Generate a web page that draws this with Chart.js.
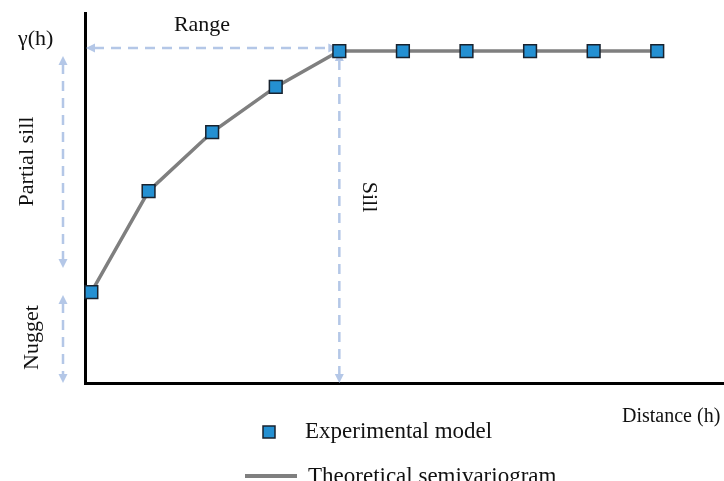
<!DOCTYPE html>
<html>
<head>
<meta charset="utf-8">
<script src="https://cdn.jsdelivr.net/npm/chart.js@4.4.1/dist/chart.umd.min.js"></script>
<style>
  html, body { margin: 0; padding: 0; background: #fff; }
  canvas { display: block; }
</style>
</head>
<body>
<canvas id="chart" width="724" height="481"></canvas>
<script>
// distance (h) of each experimental point
const distances = [0.1, 1, 2, 3, 4, 5, 6, 7, 8, 9]
// semivariance gamma(h)
const semivariance = [0.274, 0.578, 0.756, 0.892, 1, 1, 1, 1, 1, 1]

// model parameters used for the dashed guides
const nugget = 0.274
const sill = 1
const range = 4

const seriesNames = ["Experimental model", "Theoretical semivariogram"]

const fontFamily = '"Liberation Serif", "Times New Roman", serif'
const dashColor = "rgb(180, 199, 231)"
const pointFill = "#2490d2"
const pointBorder = "#18222e"
const lineColor = "#7f7f7f"

function toPoints(xs, ys){
    return xs.map((x, i) => ({x: x, y: ys[i]}))
}

function arrowHead(ctx, x, y, angle){
    ctx.save()
    ctx.translate(x, y)
    ctx.rotate(angle)
    ctx.beginPath()
    ctx.moveTo(0, 0)
    ctx.lineTo(-9, -4.5)
    ctx.lineTo(-9, 4.5)
    ctx.closePath()
    ctx.fill()
    ctx.restore()
}

//ligne pointillée avec une flèche à chaque bout
function dashedArrow(ctx, x1, y1, x2, y2){
    let a = Math.atan2(y2 - y1, x2 - x1)
    ctx.beginPath()
    ctx.moveTo(x1 + Math.cos(a) * 8, y1 + Math.sin(a) * 8)
    ctx.lineTo(x2 - Math.cos(a) * 8, y2 - Math.sin(a) * 8)
    ctx.stroke()
    arrowHead(ctx, x2, y2, a)
    arrowHead(ctx, x1, y1, a + Math.PI)
}

function rotatedText(ctx, text, x, y, angle){
    ctx.save()
    ctx.translate(x, y)
    ctx.rotate(angle)
    ctx.textAlign = "center"
    ctx.textBaseline = "alphabetic"
    ctx.fillText(text, 0, 0)
    ctx.restore()
}

const guides = {
    id: "guides",
    beforeDatasetsDraw(chart){
        let ctx = chart.ctx
        let sx = chart.scales.x
        let sy = chart.scales.y
        let x0 = sx.getPixelForValue(0)
        let xr = sx.getPixelForValue(range)
        let y0 = sy.getPixelForValue(0)
        let ys = sy.getPixelForValue(sill)
        let yn = sy.getPixelForValue(nugget)

        ctx.save()
        ctx.strokeStyle = dashColor
        ctx.fillStyle = dashColor
        ctx.lineWidth = 2.5
        ctx.setLineDash([10, 7])
        dashedArrow(ctx, x0 + 1, ys - 3, xr - 2, ys - 3)      // range
        dashedArrow(ctx, xr, ys + 1, xr, y0)                  // sill
        dashedArrow(ctx, x0 - 22, ys + 5, x0 - 22, yn - 24)   // partial sill
        dashedArrow(ctx, x0 - 22, yn + 3, x0 - 22, y0)        // nugget
        ctx.restore()
    },
    afterDraw(chart){
        let ctx = chart.ctx
        let sx = chart.scales.x
        let sy = chart.scales.y
        let xr = sx.getPixelForValue(range)
        let ys = sy.getPixelForValue(sill)
        let yn = sy.getPixelForValue(nugget)
        let y0 = sy.getPixelForValue(0)

        ctx.save()
        ctx.fillStyle = "#111"
        ctx.font = "22px " + fontFamily
        ctx.textBaseline = "alphabetic"
        ctx.textAlign = "left"
        ctx.fillText("γ(h)", 18, 45)
        ctx.textAlign = "center"
        ctx.fillText("Range", 202, 31)

        rotatedText(ctx, "Partial sill", 33, (ys + yn) / 2 - 10, -Math.PI / 2)
        rotatedText(ctx, "Nugget", 38, (yn + y0) / 2, -Math.PI / 2)
        rotatedText(ctx, "Sill", xr + 24, (ys + y0) / 2 - 20, Math.PI / 2)

        ctx.font = "20px " + fontFamily
        ctx.textAlign = "left"
        ctx.fillText("Distance (h)", 622, 422)

        //légende
        ctx.font = "23px " + fontFamily
        ctx.fillStyle = pointFill
        ctx.strokeStyle = pointBorder
        ctx.lineWidth = 1.5
        ctx.fillRect(263, 426, 12, 12)
        ctx.strokeRect(263, 426, 12, 12)
        ctx.fillStyle = "#111"
        ctx.fillText(seriesNames[0], 305, 438)

        ctx.strokeStyle = lineColor
        ctx.lineWidth = 4
        ctx.beginPath()
        ctx.moveTo(245, 476)
        ctx.lineTo(297, 476)
        ctx.stroke()
        ctx.fillText(seriesNames[1], 308, 483)
        ctx.restore()
    }
}

const hiddenAxis = {
    type: "linear",
    ticks: { display: false },
    grid: { display: false, drawTicks: false },
    border: { display: true, color: "#000", width: 3 }
}

let config = {
    type: "line",
    data: {
        datasets: [
        {
            label: seriesNames[0],
            data: toPoints(distances, semivariance),
            showLine: false,
            pointStyle: "rect",
            pointRadius: 9,
            pointBackgroundColor: pointFill,
            pointBorderColor: pointBorder,
            pointBorderWidth: 1.5,
            order: 0,
            clip: false,
        },
        {
            label: seriesNames[1],
            data: toPoints(distances, semivariance),
            borderColor: lineColor,
            borderWidth: 3.5,
            pointRadius: 0,
            tension: 0,
            order: 1,
            clip: false,
        },
        ],
    },
    options: {
        responsive: false,
        animation: false,
        devicePixelRatio: 1,
        layout: { autoPadding: false, padding: { left: 85, top: 13, right: 0, bottom: 98 } },
        scales: {
            x: Object.assign({}, hiddenAxis, { min: 0, max: 10.05 }),
            y: Object.assign({}, hiddenAxis, { min: 0, max: 1.1145 }),
        },
        plugins: {
            legend: { display: false },
            tooltip: { enabled: false },
        },
    },
    plugins: [guides],
}

new Chart(document.getElementById("chart"), config)
</script>
</body>
</html>
